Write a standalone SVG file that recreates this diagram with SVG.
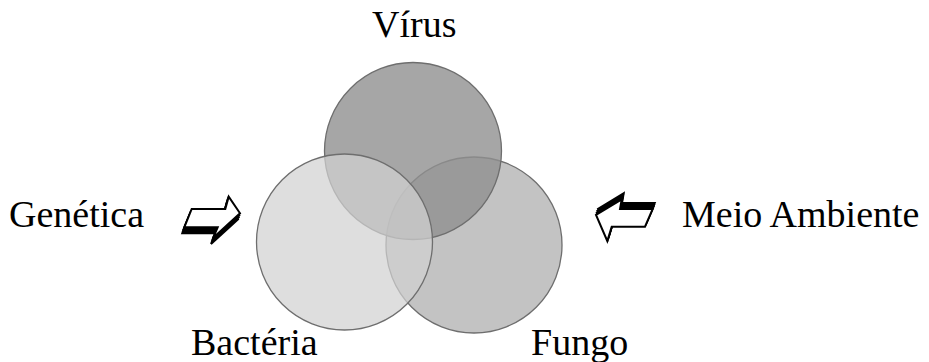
<svg xmlns="http://www.w3.org/2000/svg" xmlns:xlink="http://www.w3.org/1999/xlink" width="929" height="362" viewBox="0 0 929 362">
  <style>
    .lbl { font-family: "Liberation Serif", "Times New Roman", serif; font-size: 38px; fill: #000; }
    .ring { stroke: #6e6e6e; stroke-width: 1.3; }
    .face { fill: #fff; stroke: #000; stroke-width: 2; stroke-linejoin: miter; }
    .shade { fill: #000; stroke: #000; stroke-width: 2; }
  </style>
  <defs>
    <polygon id="arrR" points="191.7,209 225.3,209 228.7,196.7 240,213.3 213,238 217.7,227.3 184.3,227.3"/>
    <polygon id="arrL" points="652.7,209 620,209 621.7,199.3 596,215 607.3,241 611.7,226.7 645,226.7"/>
  </defs>
  <rect width="929" height="362" fill="#fff"/>
  <g id="fungo">
    <circle class="ring" cx="474" cy="245" r="88" fill="#a9a9a9" fill-opacity="0.7"/>
  </g>
  <g id="virus">
    <circle class="ring" cx="413" cy="151" r="88.5" fill="#909090" fill-opacity="0.8"/>
  </g>
  <g id="bacteria">
    <circle class="ring" cx="344.5" cy="242" r="88" fill="#d1d1d1" fill-opacity="0.72"/>
  </g>
  <g id="labels">
    <text class="lbl" x="372" y="37">Vírus</text>
    <text class="lbl" x="9" y="227">Genética</text>
    <text class="lbl" x="682" y="227">Meio Ambiente</text>
    <text class="lbl" x="191" y="355">Bactéria</text>
    <text class="lbl" x="531" y="355">Fungo</text>
  </g>
  <g id="connectors">
    <g id="arrow-genetica">
      <use xlink:href="#arrR" class="shade" transform="translate(-0.7,2)"/>
      <use xlink:href="#arrR" class="shade" transform="translate(-1.3,4)"/>
      <use xlink:href="#arrR" class="shade" transform="translate(-2,6)"/>
      <use xlink:href="#arrR" class="face"/>
    </g>
    <g id="arrow-meio">
      <use xlink:href="#arrL" class="shade" transform="translate(0.7,-2)"/>
      <use xlink:href="#arrL" class="shade" transform="translate(1.3,-4)"/>
      <use xlink:href="#arrL" class="shade" transform="translate(2,-6)"/>
      <use xlink:href="#arrL" class="face"/>
    </g>
  </g>
</svg>
